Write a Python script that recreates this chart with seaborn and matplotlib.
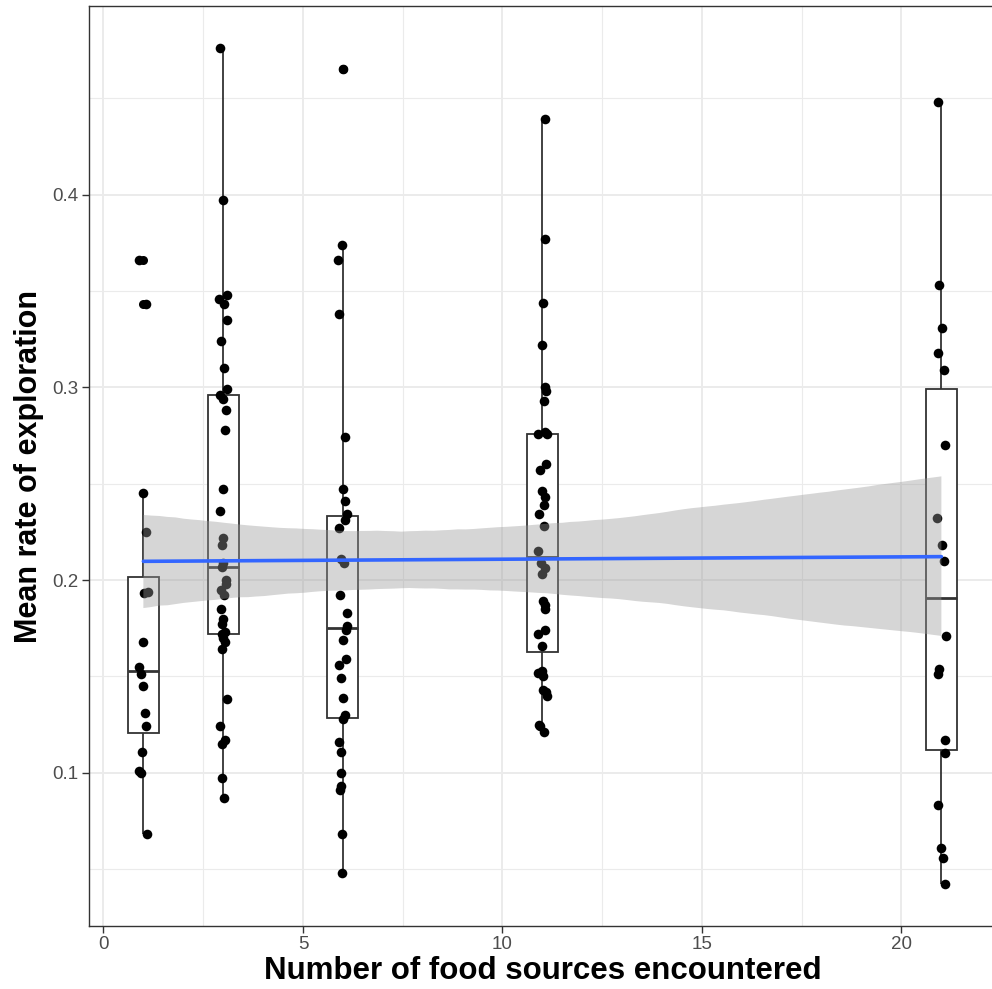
import numpy as np
import pandas as pd
import matplotlib
matplotlib.use("Agg")
import matplotlib.pyplot as plt
import seaborn as sns
from matplotlib.ticker import MultipleLocator

# ---------------- data ----------------
food_sources = [1, 3, 6, 11, 21]

rate_1 = [0.366, 0.343, 0.245, 0.225, 0.194, 0.193, 0.168, 0.155, 0.151,
          0.145, 0.131, 0.124, 0.111, 0.101, 0.100, 0.068]
rate_3 = [0.476, 0.397, 0.348, 0.346, 0.343, 0.335, 0.324, 0.310, 0.299,
          0.296, 0.294, 0.288, 0.278, 0.247, 0.236, 0.222, 0.218, 0.209,
          0.207, 0.200, 0.198, 0.195, 0.192, 0.185, 0.180, 0.177, 0.173,
          0.172, 0.170, 0.168, 0.164, 0.138, 0.124, 0.117, 0.115, 0.097,
          0.087]
rate_6 = [0.465, 0.374, 0.366, 0.338, 0.274, 0.247, 0.241, 0.234, 0.231,
          0.227, 0.211, 0.209, 0.192, 0.183, 0.176, 0.174, 0.169, 0.159,
          0.156, 0.149, 0.139, 0.130, 0.128, 0.116, 0.111, 0.100, 0.093,
          0.091, 0.068, 0.048]
rate_11 = [0.439, 0.377, 0.344, 0.322, 0.300, 0.298, 0.293, 0.277, 0.276,
           0.276, 0.260, 0.257, 0.246, 0.243, 0.239, 0.234, 0.228, 0.215,
           0.209, 0.206, 0.203, 0.189, 0.187, 0.185, 0.174, 0.172, 0.166,
           0.153, 0.152, 0.150, 0.143, 0.142, 0.140, 0.125, 0.124, 0.121]
rate_21 = [0.448, 0.353, 0.331, 0.318, 0.309, 0.270, 0.232, 0.218, 0.210,
           0.171, 0.154, 0.151, 0.117, 0.110, 0.083, 0.061, 0.056, 0.042]

x_ticks = [0, 5, 10, 15, 20]
y_ticks = [0.1, 0.2, 0.3, 0.4]
x_title = "Number of food sources encountered"
y_title = "Mean rate of exploration"

# ---------------- build table ----------------
groups = [rate_1, rate_3, rate_6, rate_11, rate_21]
rows = []
for xv, ys in zip(food_sources, groups):
    for yv in ys:
        rows.append((xv, yv))
df = pd.DataFrame(rows, columns=["food", "rate"])

sns.set_theme(style="white")
plt.rcParams["font.family"] = ["Liberation Sans", "DejaVu Sans"]

fig = plt.figure(figsize=(9.92, 9.89), dpi=100)
ax = fig.add_axes([0.0893, 0.0634, 0.9164, 0.9302])

# boxplots
sns.boxplot(data=df, x="food", y="rate", native_scale=True, width=0.39,
            color="white", linecolor="#333333", linewidth=1.3,
            showcaps=False, fliersize=6.5,
            flierprops=dict(marker="o", markerfacecolor="black",
                            markeredgecolor="black", markeredgewidth=0),
            medianprops=dict(linewidth=2.0, color="#333333"),
            ax=ax)

# jittered points (jitter affects only the drawing, not values)
np.random.seed(7)
sns.regplot(data=df, x="food", y="rate", fit_reg=False, x_jitter=0.12,
            scatter_kws=dict(s=48, color="black", linewidths=0, alpha=1,
                             zorder=3),
            ax=ax)

# linear fit with confidence band
before = list(ax.collections)
sns.regplot(data=df, x="food", y="rate", scatter=False, ci=95, n_boot=2000,
            seed=3, color="#3366FF", line_kws=dict(lw=2.6, zorder=6), ax=ax)
for c in ax.collections:
    if c not in before:
        c.set_facecolor("#999999")
        c.set_alpha(0.4)
        c.set_edgecolor("none")
        c.set_zorder(4)

# ---------------- axes styling ----------------
ymin, ymax = df["rate"].min(), df["rate"].max()
span = ymax - ymin
ax.set_ylim(ymin - 0.05 * span, ymax + 0.05 * span)
ax.set_xlim(-0.373, 22.41)

ax.set_xticks(x_ticks)
ax.set_xticklabels([str(t) for t in x_ticks])
ax.set_yticks(y_ticks)
ax.set_yticklabels([f"{t:.1f}" for t in y_ticks])
ax.xaxis.set_minor_locator(MultipleLocator(2.5))
ax.yaxis.set_minor_locator(MultipleLocator(0.05))

ax.grid(which="major", color="#EBEBEB", lw=1.4)
ax.grid(which="minor", color="#EBEBEB", lw=0.8)
ax.set_axisbelow(True)

ax.tick_params(which="major", length=5, width=1, color="#333333",
               labelsize=13.5, labelcolor="#4D4D4D", pad=2, direction="out",
               bottom=True, left=True)
ax.tick_params(which="minor", length=0)
for s in ax.spines.values():
    s.set_color("#333333")
    s.set_linewidth(1.0)

ax.set_xlabel(x_title, fontsize=22.5, fontweight="bold", color="black",
              labelpad=2)
ax.set_ylabel(y_title, fontsize=22, fontweight="bold", color="black",
              labelpad=6)

fig.savefig("out.png", dpi=100)
